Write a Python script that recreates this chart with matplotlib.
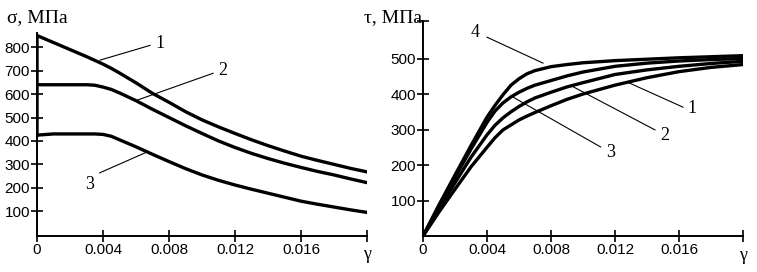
import matplotlib.pyplot as plt
import numpy as np

plt.rcParams['font.family'] = 'Liberation Sans'

# left panel: sigma(gamma), MPa
g_left = [0, 0, 0.001, 0.002, 0.003, 0.0035, 0.004, 0.0045, 0.005, 0.006,
          0.007, 0.008, 0.009, 0.010, 0.011, 0.012, 0.013, 0.014, 0.015,
          0.016, 0.017, 0.018, 0.019, 0.020]
sigma1 = [425, 850, 820, 790, 760, 744, 728, 710, 690, 648,
          603, 565, 525, 490, 460, 432, 405, 380, 357,
          335, 317, 300, 283, 268]
sigma2 = [640, 640, 640, 640, 640, 638, 630, 620, 605, 572,
          535, 500, 465, 432, 400, 372, 347, 325, 305,
          287, 270, 255, 238, 222]
sigma3 = [425, 425, 430, 430, 430, 430, 428, 420, 405, 375,
          343, 312, 282, 255, 232, 212, 194, 177, 160,
          143, 130, 118, 106, 95]

# right panel: tau(gamma), MPa
g_right = [0, 0.001, 0.002, 0.003, 0.004, 0.0045, 0.005, 0.0055, 0.006,
           0.0065, 0.007, 0.008, 0.009, 0.010, 0.012, 0.014, 0.016, 0.018,
           0.020]
tau4 = [0, 88, 172, 255, 335, 368, 398, 425, 443,
        457, 466, 477, 483, 488, 494, 498, 502, 505, 508]
tau3 = [0, 85, 165, 245, 320, 352, 375, 392, 405,
        416, 425, 438, 451, 462, 478, 487, 493, 497, 500]
tau2 = [0, 78, 150, 222, 285, 312, 333, 350, 365,
        378, 389, 405, 420, 432, 455, 468, 478, 486, 492]
tau1 = [0, 68, 132, 195, 250, 277, 299, 313, 327,
        338, 348, 367, 385, 400, 425, 446, 463, 475, 483]

xticks = [0, 0.004, 0.008, 0.012, 0.016, 0.02]
xticklabels = ['0', '0.004', '0.008', '0.012', '0.016', '']

# curve labels: (text, label x, label y, leader from x, y, leader to x, y)
left_labels = [('1', 0.00745, 817, 0.00382, 745, 0.00685, 808),
               ('2', 0.01127, 700, 0.00606, 574, 0.01067, 689),
               ('3', 0.0032, 213, 0.0038, 264, 0.00667, 353)]
right_labels = [('4', 0.00325, 572, 0.0075, 487, 0.004, 560),
                ('1', 0.0168, 360, 0.01275, 434, 0.01625, 363),
                ('2', 0.0151, 284, 0.0094, 420, 0.0145, 299),
                ('3', 0.0117, 234, 0.0056, 392, 0.0111, 251)]

fig = plt.figure(figsize=(7.57, 2.72), dpi=100)
ax1 = fig.add_axes([0.0489, 0.132, 0.436, 0.746])
ax2 = fig.add_axes([0.5588, 0.132, 0.4227, 0.790])

for ax in (ax1, ax2):
    for s in ('top', 'right'):
        ax.spines[s].set_visible(False)
    for s in ('left', 'bottom'):
        ax.spines[s].set_linewidth(1.4)
    ax.tick_params(direction='inout', length=8, width=1.2, labelsize=11, pad=1)
    ax.set_xticks(xticks)
    ax.set_xticklabels(xticklabels)
    ax.set_xlim(0, 0.02)
    ax.text(1.0, -0.05, 'γ', transform=ax.transAxes, ha='center', va='top',
            fontsize=13, family='Liberation Serif')

for y in (sigma1, sigma2, sigma3):
    ax1.plot(g_left, y, color='black', lw=2.4)
ax1.set_ylim(-6, 860)
ax1.set_yticks([100, 200, 300, 400, 500, 600, 700, 800])

for y in (tau1, tau2, tau3, tau4):
    ax2.plot(g_right, y, color='black', lw=2.4)
ax2.set_ylim(0, 605)
ax2.set_yticks([100, 200, 300, 400, 500, 605])
ax2.set_yticklabels(['100', '200', '300', '400', '500', ''])

for ax, labels in ((ax1, left_labels), (ax2, right_labels)):
    for t, lx, ly, sx, sy, ex, ey in labels:
        ax.plot([sx, ex], [sy, ey], color='black', lw=0.8)
        ax.text(lx, ly, t, ha='center', va='center', fontsize=13,
                family='Liberation Serif')

fig.text(0.009, 1 - 22 / 272, 'σ, МПа', fontsize=14, family='Liberation Serif',
         va='baseline', ha='left')
fig.text(0.557, 1 - 22 / 272, 'τ, МПа', fontsize=14, family='Liberation Serif',
         va='baseline', ha='right')

fig.savefig('out.png', dpi=100)
